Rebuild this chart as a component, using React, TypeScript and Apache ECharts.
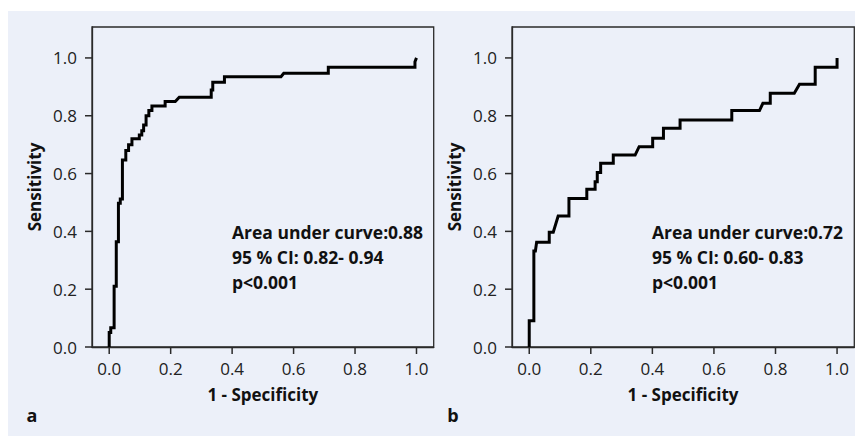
import React, { useEffect, useRef } from "react";
import * as echarts from "echarts";

const tickValues = [0, 0.2, 0.4, 0.6, 0.8, 1.0];

// Panel a ROC curve
const fprA = [0, 0, 0.005, 0.005, 0.016, 0.016, 0.023, 0.023, 0.03, 0.03, 0.036, 0.036, 0.043, 0.043, 0.054, 0.054, 0.063, 0.063, 0.074, 0.074, 0.098, 0.098, 0.106, 0.106, 0.112, 0.112, 0.12, 0.12, 0.129, 0.129, 0.139, 0.139, 0.182, 0.182, 0.215, 0.228, 0.332, 0.332, 0.337, 0.337, 0.375, 0.375, 0.559, 0.568, 0.713, 0.713, 0.995, 0.995, 1.0];
const tprA = [0, 0.05, 0.05, 0.067, 0.067, 0.21, 0.21, 0.364, 0.364, 0.497, 0.497, 0.512, 0.512, 0.647, 0.647, 0.68, 0.68, 0.7, 0.7, 0.72, 0.72, 0.733, 0.733, 0.748, 0.748, 0.768, 0.768, 0.8, 0.8, 0.818, 0.818, 0.834, 0.834, 0.849, 0.849, 0.864, 0.864, 0.889, 0.889, 0.916, 0.916, 0.935, 0.935, 0.947, 0.947, 0.968, 0.968, 0.987, 1.0];

// Panel b ROC curve
const fprB = [0, 0, 0.015, 0.015, 0.02, 0.024, 0.065, 0.065, 0.078, 0.094, 0.129, 0.129, 0.187, 0.187, 0.214, 0.214, 0.221, 0.221, 0.232, 0.232, 0.273, 0.273, 0.344, 0.357, 0.401, 0.401, 0.436, 0.436, 0.49, 0.49, 0.658, 0.658, 0.748, 0.759, 0.783, 0.783, 0.861, 0.878, 0.929, 0.929, 1.0, 1.0];
const tprB = [0, 0.091, 0.091, 0.332, 0.332, 0.362, 0.362, 0.397, 0.397, 0.453, 0.453, 0.514, 0.514, 0.546, 0.546, 0.572, 0.572, 0.604, 0.604, 0.636, 0.636, 0.664, 0.664, 0.693, 0.693, 0.722, 0.722, 0.757, 0.757, 0.785, 0.785, 0.818, 0.818, 0.843, 0.843, 0.878, 0.878, 0.909, 0.909, 0.968, 0.968, 1.0];

const statsA = ["Area under curve:0.88", "95 % CI: 0.82- 0.94", "p<0.001"];
const statsB = ["Area under curve:0.72", "95 % CI: 0.60- 0.83", "p<0.001"];
const panelLabels = ["a", "b"];

const FONT = "'Open Sans', 'Noto Sans', sans-serif";
const BG = "#ecf0f9";
const AXIS_COLOR = "#2a2a2a";
const X_MIN = -0.056;
const X_MAX = 1.056;
const Y_MIN = 0;
const Y_MAX = 1.107;
// chart origin on the page (body margin 8px + 3px top offset)
const OX = 8;
const OY = 11;

export default function App() {
  const ref = useRef<HTMLDivElement>(null);
  useEffect(() => {
    if (!ref.current) return;
    const chart = echarts.init(ref.current, null, { renderer: "svg" });
    const grids = [
      { left: 92 - OX, top: 27 - OY, width: 341.7, height: 320 },
      { left: 512 - OX, top: 27 - OY, width: 342.3, height: 320 },
    ];
    const fmt = (v: number) => v.toFixed(1);
    const mkX = (i: number) => ({
      type: "value",
      gridIndex: i,
      min: X_MIN,
      max: X_MAX,
      splitLine: { show: false },
      axisLine: { show: true, onZero: false, lineStyle: { color: AXIS_COLOR, width: 1.3 } },
      axisTick: { show: false },
      axisLabel: { customValues: tickValues, formatter: fmt, fontSize: 17, margin: 12.5, color: "#222", fontFamily: FONT },
    });
    const mkY = (i: number) => ({
      type: "value",
      gridIndex: i,
      min: Y_MIN,
      max: Y_MAX,
      splitLine: { show: false },
      axisLine: { show: true, onZero: false, lineStyle: { color: AXIS_COLOR, width: 1.3 } },
      axisTick: { show: false },
      axisLabel: { customValues: tickValues, formatter: fmt, fontSize: 17, margin: 15, color: "#222", fontFamily: FONT },
    });
    const mk = (xs: number[], ys: number[]) => xs.map((x, i) => [x, ys[i]]);
    // tick marks drawn through the axes' own scales
    const tickSeries = (i: number, dir: "x" | "y") => ({
      type: "custom",
      xAxisIndex: i,
      yAxisIndex: i,
      silent: true,
      clip: false,
      z: 10,
      data: tickValues.map((v) => [v]),
      renderItem: (_params: any, api: any) => {
        const v = api.value(0);
        if (dir === "x") {
          const p = api.coord([v, Y_MIN]);
          return {
            type: "line",
            shape: { x1: p[0], y1: p[1], x2: p[0], y2: p[1] + 7 },
            style: { stroke: AXIS_COLOR, lineWidth: 1.5 },
          };
        }
        const p = api.coord([X_MIN, v]);
        return {
          type: "line",
          shape: { x1: p[0] - 7, y1: p[1], x2: p[0], y2: p[1] },
          style: { stroke: AXIS_COLOR, lineWidth: 1.5 },
        };
      },
    });
    const statText = (lines: string[], x: number) =>
      lines.map((t, i) => ({
        type: "text",
        x: x - OX,
        y: 231.7 + i * 25 - OY,
        style: { text: t, font: `bold 17.5px ${FONT}`, fill: "#111", verticalAlign: "middle" },
      }));
    const titleX = (cx: number) => ({
      type: "text",
      x: cx - OX,
      y: 394 - OY,
      style: { text: "1 - Specificity", font: `bold 17px ${FONT}`, fill: "#111", align: "center", verticalAlign: "middle" },
    });
    const titleY = (cx: number) => ({
      type: "text",
      x: cx - OX,
      y: 187 - OY,
      rotation: Math.PI / 2,
      style: { text: "Sensitivity", font: `bold 17px ${FONT}`, fill: "#111", align: "center", verticalAlign: "middle" },
    });
    chart.setOption({
      animation: false,
      grid: grids.map((g) => ({ ...g, show: true, borderColor: AXIS_COLOR, borderWidth: 1.3 })),
      xAxis: [mkX(0), mkX(1)],
      yAxis: [mkY(0), mkY(1)],
      graphic: [
        ...statText(statsA, 232),
        ...statText(statsB, 652),
        titleX(262.8),
        titleX(683),
        titleY(34),
        titleY(454),
        { type: "text", x: 32 - OX, y: 415 - OY, style: { text: panelLabels[0], font: `bold 18px ${FONT}`, fill: "#111", align: "center", verticalAlign: "middle" } },
        { type: "text", x: 453 - OX, y: 415 - OY, style: { text: panelLabels[1], font: `bold 18px ${FONT}`, fill: "#111", align: "center", verticalAlign: "middle" } },
      ],
      series: [
        {
          type: "line",
          xAxisIndex: 0,
          yAxisIndex: 0,
          data: mk(fprA, tprA),
          showSymbol: false,
          lineStyle: { color: "#000", width: 3, join: "miter" },
        },
        {
          type: "line",
          xAxisIndex: 1,
          yAxisIndex: 1,
          data: mk(fprB, tprB),
          showSymbol: false,
          lineStyle: { color: "#000", width: 3, join: "miter" },
        },
        tickSeries(0, "x"),
        tickSeries(0, "y"),
        tickSeries(1, "x"),
        tickSeries(1, "y"),
      ],
    });
    return () => chart.dispose();
  }, []);
  return (
    <div style={{ marginTop: 3, width: 855, height: 425, background: BG }}>
      <div ref={ref} style={{ width: 855, height: 425 }} />
    </div>
  );
}
